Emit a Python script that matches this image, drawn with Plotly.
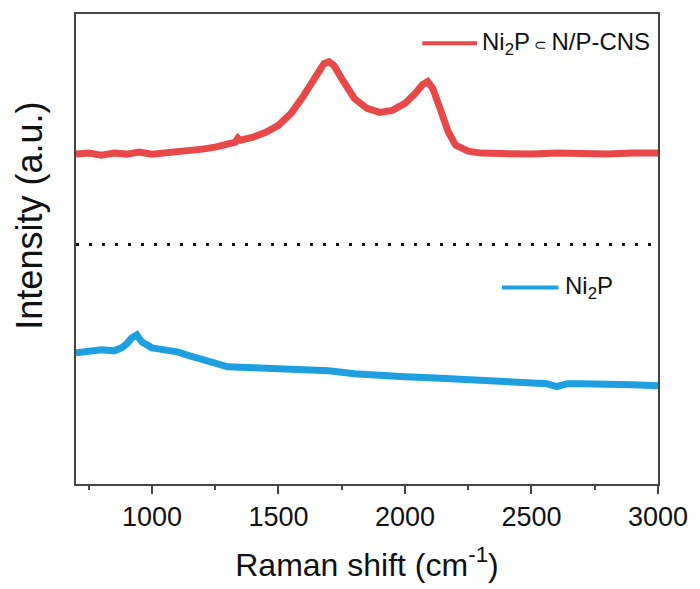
import plotly.graph_objects as go

# Raman shift (cm^-1) and relative intensity (a.u.) for each sample
shift_np = [700, 750, 800, 850, 900, 950, 1000, 1050, 1100, 1150, 1200, 1250, 1300,
            1330, 1340, 1350, 1400, 1450, 1500, 1550, 1600, 1650, 1680, 1700, 1720,
            1750, 1780, 1800, 1850, 1900, 1950, 2000, 2040, 2070, 2090, 2110, 2140,
            2170, 2200, 2250, 2300, 2400, 2500, 2600, 2700, 2800, 2900, 3000]
int_np = [332, 333, 331, 333, 332, 334, 332, 333, 334, 335, 337, 339, 342,
          344, 348, 346, 349, 354, 361, 373, 391, 411, 423, 425, 421,
          408, 395, 388, 378, 374, 376, 383, 393, 402, 405, 398, 377,
          355, 341, 335, 333, 332, 332, 333, 332, 332, 333, 333]

shift_ni2p = [700, 750, 800, 850, 880, 900, 920, 940, 960, 980, 1000, 1050, 1100,
              1150, 1200, 1250, 1300, 1400, 1500, 1600, 1700, 1800, 1900, 2000,
              2100, 2200, 2300, 2400, 2500, 2560, 2600, 2640, 2700, 2800, 2900, 3000]
int_ni2p = [132, 133, 135, 134, 137, 141, 147, 150, 143, 140, 137, 135, 133,
            129, 125, 121, 118, 117, 116, 115, 114, 111, 109, 108,
            107, 106, 105, 104, 103, 101, 98, 101, 101, 101, 100, 99]

separator_level = 241

RED = "#E84848"
BLUE = "#1E9FE0"
FONT = "Liberation Sans, Arial, sans-serif"

fig = go.Figure()
fig.add_trace(go.Scatter(x=shift_np, y=int_np, mode="lines",
                         line=dict(color=RED, width=7), name="Ni2P⊂N/P-CNS",
                         showlegend=False))
fig.add_trace(go.Scatter(x=shift_ni2p, y=int_ni2p, mode="lines",
                         line=dict(color=BLUE, width=7), name="Ni2P",
                         showlegend=False))

# dotted separator between the two spectra
fig.add_shape(type="line", xref="paper", x0=0, x1=1, yref="y",
              y0=separator_level, y1=separator_level,
              line=dict(color="#111111", width=3, dash="3px,10px"))

# legend entries: short line sample plus label
def legend_entry(x0, x1, y, color, text, tx):
    fig.add_shape(type="line", xref="paper", yref="paper", x0=x0, x1=x1,
                  y0=y, y1=y, line=dict(color=color, width=4))
    fig.add_annotation(xref="paper", yref="paper", x=tx, y=y, xanchor="left",
                       yanchor="middle", text=text, showarrow=False,
                       font=dict(family=FONT, size=24, color="#111111"))

legend_entry(0.595, 0.689, 0.938, RED,
             "Ni<sub>2</sub>P<span style='font-size:15px'> ⊂ </span>N/P-CNS", 0.694)
legend_entry(0.732, 0.829, 0.418, BLUE, "Ni<sub>2</sub>P", 0.836)

# vertical axis title, set slightly above the plot's mid-height
fig.add_annotation(xref="paper", yref="paper", x=-0.079, y=0.571,
                   xanchor="center", yanchor="middle", textangle=-90,
                   text="Intensity (a.u.)", showarrow=False,
                   font=dict(family=FONT, size=36, color="#111111"))

fig.update_layout(
    width=700, height=589,
    margin=dict(l=76, r=37, t=14, b=102),
    paper_bgcolor="white", plot_bgcolor="white",
    font=dict(family=FONT, color="#111111"),
    xaxis=dict(range=[700, 3000], tickvals=[1000, 1500, 2000, 2500, 3000],
               ticks="outside", ticklen=8, tickwidth=1.5, tickcolor="#444444",
               minor=dict(tickvals=[750, 1250, 1750, 2250, 2750], ticks="outside",
                          ticklen=4, tickwidth=1.5, tickcolor="#444444"),
               showline=True, linecolor="#444444", linewidth=2, mirror=True,
               showgrid=False, zeroline=False,
               tickfont=dict(size=27, color="#111111"),
               title=dict(text="Raman shift (cm<sup>-1</sup>)",
                          font=dict(size=32, color="#111111"), standoff=22)),
    yaxis=dict(range=[0, 473], showticklabels=False, ticks="",
               showline=True, linecolor="#444444", linewidth=2, mirror=True,
               showgrid=False, zeroline=False),
)

fig.write_html("out.html")
